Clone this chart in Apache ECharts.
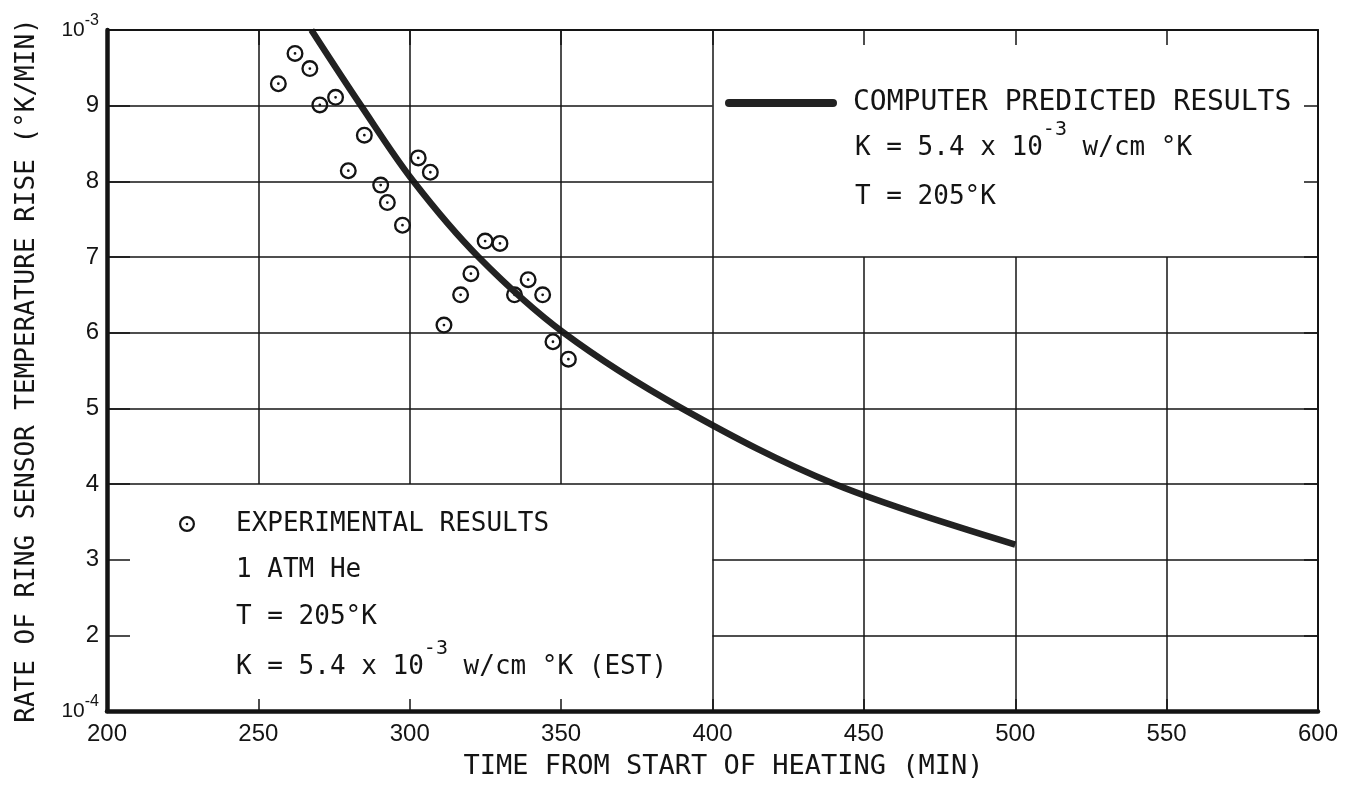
<!DOCTYPE html>
<html>
<head>
<meta charset="utf-8">
<title>Ring sensor temperature rise</title>
<script src="https://cdn.jsdelivr.net/npm/echarts@6/dist/echarts.min.js"></script>
<style>
  html, body { margin: 0; padding: 0; background: #ffffff; }
  #chart { width: 1349px; height: 796px; }
</style>
</head>
<body>
<div id="chart"></div>
<script>
// Experimental points: time (min) and rate (units of 1e-4 °K/min)
const expTime = [256.6, 262.1, 267.0, 270.3, 275.5, 279.7, 285.0, 290.4, 292.6, 297.6, 302.8,
                 306.8, 311.3, 316.8, 320.2, 324.9, 329.8, 334.6, 339.1, 343.9, 347.3, 352.4];
const expRate = [9.29, 9.69, 9.49, 9.01, 9.11, 8.14, 8.61, 7.95, 7.72, 7.42, 8.31,
                 8.12, 6.10, 6.50, 6.78, 7.21, 7.18, 6.50, 6.70, 6.50, 5.88, 5.65];

// Computer prediction curve (same units)
const predTime = [267.5, 283.9, 301.2, 322.7, 350.8, 389.9, 440.3, 500];
const predRate = [10, 9, 8, 7, 6, 5, 4, 3.2];

// Axis ticks
const xTicks = [200, 250, 300, 350, 400, 450, 500, 550, 600];
const yTicks = [1, 2, 3, 4, 5, 6, 7, 8, 9, 10];
const yDecadeLabels = { 1: ['10', '-4'], 10: ['10', '-3'] };

const seriesNames = ['COMPUTER PREDICTED RESULTS', 'EXPERIMENTAL RESULTS'];
const xTitle = 'TIME FROM START OF HEATING (MIN)';
const yTitle = 'RATE OF RING SENSOR TEMPERATURE RISE (°K/MIN)';

// Panels kept clear of grid lines (data units): [x0, x1, y0, y1]
const clearPanels = [[400, 600, 7, 10], [200, 400, 1, 4]];

const MONO = '"DejaVu Sans Mono", monospace';
const SANS = '"Liberation Sans", Arial, sans-serif';
const INK = '#141414';

const xMin = xTicks[0], xMax = xTicks[xTicks.length - 1];
const yMin = yTicks[0], yMax = yTicks[yTicks.length - 1];

// subtract panel ranges from a full line span
function spans(lo, hi, cuts) {
  let segs = [[lo, hi]];
  cuts.forEach(([a, b]) => {
    const next = [];
    segs.forEach(([s, e]) => {
      if (b <= s || a >= e) { next.push([s, e]); return; }
      if (a > s) next.push([s, a]);
      if (b < e) next.push([b, e]);
    });
    segs = next;
  });
  return segs;
}

const gridSegments = [];
xTicks.slice(1, -1).forEach(x => {
  const cuts = clearPanels.filter(p => x > p[0] && x < p[1]).map(p => [p[2], p[3]]);
  spans(yMin, yMax, cuts).forEach(([a, b]) => gridSegments.push([{ coord: [x, a] }, { coord: [x, b] }]));
});
yTicks.slice(1, -1).forEach(y => {
  const cuts = clearPanels.filter(p => y > p[2] && y < p[3]).map(p => [p[0], p[1]]);
  spans(xMin, xMax, cuts).forEach(([a, b]) => gridSegments.push([{ coord: [a, y] }, { coord: [b, y] }]));
});

// circle with a centre dot
const ringDot = 'path://M0,-8A8,8 0 1 1 0,8A8,8 0 1 1 0,-8Z' +
                'M0,-5.8A5.8,5.8 0 1 0 0,5.8A5.8,5.8 0 1 0 0,-5.8Z' +
                'M0,-1.3A1.3,1.3 0 1 1 0,1.3A1.3,1.3 0 1 1 0,-1.3Z';
// thick bar with rounded ends
const barIcon = 'path://M4,0H108A4,4 0 0 1 108,8H4A4,4 0 0 1 4,0Z';

// superscripts are lifted by bottom padding on the exponent token
const noteRich = {
  n: { fontFamily: MONO, fontSize: 26, lineHeight: 30, color: INK },
  s: { fontFamily: MONO, fontSize: 20, lineHeight: 20, padding: [0, 0, 36, 0], color: INK }
};

function note(x, y, text) {
  return {
    type: 'text', x: x, y: y, z: 10, silent: true,
    style: { text: text, rich: noteRich, fill: INK, textVerticalAlign: 'middle', textAlign: 'left' }
  };
}

const chart = echarts.init(document.getElementById('chart'));

chart.setOption({
  backgroundColor: '#ffffff',
  animation: false,
  grid: { left: 107, right: 31, top: 30, bottom: 85, containLabel: false },
  xAxis: [
    {
      type: 'value', min: xMin, max: xMax, interval: 50, position: 'bottom', z: 5,
      axisLine: { lineStyle: { color: INK, width: 4.5 } },
      axisTick: { inside: true, length: 12, lineStyle: { color: INK, width: 1.5 } },
      axisLabel: { fontFamily: SANS, fontSize: 24, color: INK, margin: 11 },
      splitLine: { show: false },
      name: xTitle, nameLocation: 'middle', nameGap: 42,
      nameTextStyle: { fontFamily: MONO, fontSize: 27, color: INK, padding: [0, 0, 0, 22] }
    },
    {
      type: 'value', min: xMin, max: xMax, interval: 50, position: 'top', z: 5,
      axisLine: { lineStyle: { color: INK, width: 2 } },
      axisTick: { inside: true, length: 15, lineStyle: { color: INK, width: 1.5 } },
      axisLabel: { show: false },
      splitLine: { show: false }
    }
  ],
  yAxis: [
    {
      type: 'value', min: yMin, max: yMax, interval: 1, position: 'left', z: 5,
      axisLine: { lineStyle: { color: INK, width: 4.5 } },
      axisTick: { inside: true, length: 23, lineStyle: { color: INK, width: 1.5 } },
      axisLabel: {
        fontFamily: SANS, fontSize: 24, color: INK, margin: 8,
        formatter: v => yDecadeLabels[v] ? '{b|' + yDecadeLabels[v][0] + '}{e|' + yDecadeLabels[v][1] + '}' : String(v),
        rich: {
          b: { fontFamily: SANS, fontSize: 21, lineHeight: 24, color: INK },
          e: { fontFamily: SANS, fontSize: 16, lineHeight: 16, padding: [0, 0, 18, 0], color: INK }
        }
      },
      splitLine: { show: false },
      name: yTitle, nameLocation: 'middle', nameGap: 67,
      nameTextStyle: { fontFamily: MONO, fontSize: 26, color: INK }
    },
    {
      type: 'value', min: yMin, max: yMax, interval: 1, position: 'right', z: 5,
      axisLine: { lineStyle: { color: INK, width: 2 } },
      axisTick: { inside: true, length: 14, lineStyle: { color: INK, width: 1.5 } },
      axisLabel: { show: false },
      splitLine: { show: false }
    }
  ],
  legend: [
    {
      data: [{ name: seriesNames[0], icon: barIcon, itemStyle: { color: '#222222' } }],
      left: 725, top: 89, padding: 0, selectedMode: false,
      itemWidth: 112, itemHeight: 8,
      textStyle: { fontFamily: MONO, fontSize: 28, color: INK, padding: [0, 0, 0, 11] }
    },
    {
      data: [seriesNames[1]], left: 179, top: 511, padding: 0, selectedMode: false,
      itemWidth: 16, itemHeight: 16,
      textStyle: { fontFamily: MONO, fontSize: 26, color: INK, padding: [0, 0, 0, 36] }
    }
  ],
  series: [
    {
      name: 'grid', type: 'line', data: [], z: 1, silent: true,
      xAxisIndex: 0, yAxisIndex: 0,
      markLine: {
        silent: true, symbol: ['none', 'none'], animation: false,
        label: { show: false },
        lineStyle: { color: INK, width: 1.5, type: 'solid' },
        emphasis: { disabled: true },
        data: gridSegments
      }
    },
    {
      name: seriesNames[1], type: 'scatter', z: 3,
      xAxisIndex: 0, yAxisIndex: 0,
      symbol: ringDot, symbolSize: 17,
      itemStyle: { color: INK, opacity: 1 },
      data: expTime.map((t, i) => [t, expRate[i]])
    },
    {
      name: seriesNames[0], type: 'line', z: 4,
      xAxisIndex: 0, yAxisIndex: 0,
      smooth: 0.35, symbol: 'none', showSymbol: false,
      lineStyle: { color: '#222222', width: 6.5 },
      itemStyle: { color: '#222222' },
      data: predTime.map((t, i) => [t, predRate[i]])
    }
  ],
  graphic: [
    note(855, 148, '{n|K = 5.4 x 10}{s|-3}{n| w/cm °K}'),
    note(855, 197, '{n|T = 205°K}'),
    note(236, 570, '{n|1 ATM He}'),
    note(236, 617, '{n|T = 205°K}'),
    note(236, 667, '{n|K = 5.4 x 10}{s|-3}{n| w/cm °K (EST)}')
  ]
});
</script>
</body>
</html>
